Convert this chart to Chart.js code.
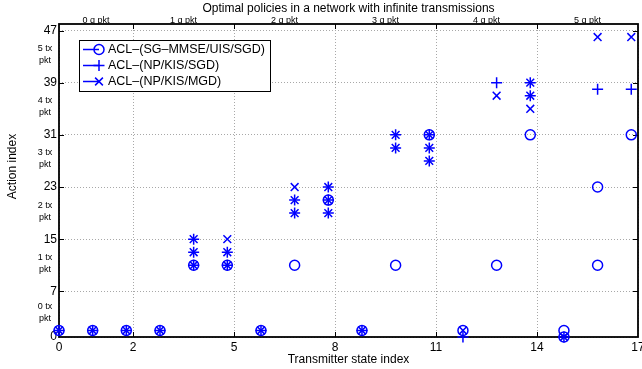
<!DOCTYPE html>
<html lang="en">
<head>
  <meta charset="UTF-8" />
  <title>Optimal policies in a network with infinite transmissions</title>
  <script src="https://cdn.jsdelivr.net/npm/chart.js"></script>
  <style>
    body {
      margin: 0;
      padding: 0;
      background: #fff;
      overflow: hidden;
    }
    .wrap {
      position: relative;
      width: 642px;
      height: 369px;
    }
  </style>
</head>
<body>
  <div class="wrap">
    <canvas id="policyChart" width="642" height="369"></canvas>
  </div>
  <script>
    /* =========================
         DATA
       ========================= */
    const chartTitle = 'Optimal policies in a network with infinite transmissions';
    const xTitle = 'Transmitter state index';
    const yTitle = 'Action index';

    // transmitter states
    const states = [0, 1, 2, 3, 4, 5, 6, 7, 8, 9, 10, 11, 12, 13, 14, 15, 16, 17];

    // actions used in each state (a state can have more than one action)
    const actionsSG = [[1], [1], [1], [1], [11], [11], [1], [11], [21], [1], [11], [31], [1], [11], [31], [0, 1], [11, 23], [31]];
    const actionsNPSGD = [[1], [1], [1], [1], [11, 13, 15], [11, 13], [1], [19, 21], [19, 21, 23], [1], [29, 31], [27, 29, 31], [0], [39], [37, 39], [0], [38], [38]];
    const actionsNPMGD = [[1], [1], [1], [1], [11, 13, 15], [11, 13, 15], [1], [19, 21, 23], [19, 21, 23], [1], [29, 31], [27, 29, 31], [1], [37], [35, 37, 39], [0], [46], [46]];

    const seriesNames = ['ACL–(SG–MMSE/UIS/SGD)', 'ACL–(NP/KIS/SGD)', 'ACL–(NP/KIS/MGD)'];
    const seriesStyles = ['circle', 'cross', 'crossRot'];

    // bottom axis ticks (also the queue group boundaries)
    const xTickPos = [0, 2.2, 5.2, 8.2, 11.2, 14.2, 17.2];
    const xTickLabels = ['0', '2', '5', '8', '11', '14', '17'];
    const queueLabels = ['0 q pkt', '1 q pkt', '2 q pkt', '3 q pkt', '4 q pkt', '5 q pkt'];

    // left axis ticks (also the tx group boundaries)
    const yTickPos = [0, 7, 15, 23, 31, 39, 47];
    const txLabels = ['0 tx', '1 tx', '2 tx', '3 tx', '4 tx', '5 tx'];

    /* =========================
         BUILD
       ========================= */
    const FONT = '"Liberation Sans", Arial, Helvetica, sans-serif';
    const BLUE = '#0000ff';
    Chart.defaults.font.family = FONT;
    Chart.defaults.color = '#000';

    const toPoints = actions => states.flatMap((s, i) => actions[i].map(a => ({ x: s, y: a })));
    const queueMid = queueLabels.map((l, i) => (xTickPos[i] + xTickPos[i + 1]) / 2);
    const txMid = txLabels.map((l, i) => (yTickPos[i] + yTickPos[i + 1]) / 2);

    const makeSet = (name, actions, style, radius) => ({
      label: name,
      data: toPoints(actions),
      showLine: false,
      pointStyle: style,
      pointRadius: radius,
      pointBorderWidth: 1.5,
      pointBorderColor: BLUE,
      pointBackgroundColor: 'rgba(0,0,0,0)',
      clip: false
    });

    function drawMarker(ctx, style, x, y, r) {
      ctx.beginPath();
      if (style === 'circle') {
        ctx.arc(x, y, r, 0, Math.PI * 2);
      } else if (style === 'cross') {
        ctx.moveTo(x - r, y); ctx.lineTo(x + r, y);
        ctx.moveTo(x, y - r); ctx.lineTo(x, y + r);
      } else {
        const d = r * Math.SQRT1_2;
        ctx.moveTo(x - d, y - d); ctx.lineTo(x + d, y + d);
        ctx.moveTo(x - d, y + d); ctx.lineTo(x + d, y - d);
      }
      ctx.stroke();
    }

    // box, inward ticks, tx labels, y title and legend
    const framePlugin = {
      id: 'frame',
      beforeDatasetsDraw(chart) {
        const { ctx, chartArea: a, scales } = chart;
        ctx.save();
        ctx.strokeStyle = '#000';
        ctx.lineWidth = 1;
        ctx.beginPath();
        xTickPos.slice(1, -1).forEach(v => {
          const px = Math.round(scales.x.getPixelForValue(v)) + 0.5;
          ctx.moveTo(px, a.bottom); ctx.lineTo(px, a.bottom - 5);
          ctx.moveTo(px, a.top); ctx.lineTo(px, a.top + 5);
        });
        yTickPos.slice(1).forEach(v => {
          const py = Math.round(scales.y.getPixelForValue(v)) + 0.5;
          ctx.moveTo(a.left, py); ctx.lineTo(a.left + 5, py);
          ctx.moveTo(a.right, py); ctx.lineTo(a.right - 5, py);
        });
        ctx.stroke();
        ctx.lineWidth = 1.8;
        ctx.strokeRect(a.left, a.top, a.right - a.left, a.bottom - a.top);
        ctx.restore();
      },
      afterDraw(chart) {
        const { ctx, chartArea: a, scales } = chart;
        ctx.save();
        ctx.fillStyle = '#000';

        // tx group labels
        ctx.font = '9px ' + FONT;
        ctx.textAlign = 'center';
        ctx.textBaseline = 'middle';
        txLabels.forEach((t, i) => {
          const py = scales.y.getPixelForValue(txMid[i]);
          ctx.fillText(t, a.left - 14, py - 8);
          ctx.fillText('pkt', a.left - 14, py + 4);
        });

        // y title
        ctx.font = '12px ' + FONT;
        ctx.translate(13, (a.top + a.bottom) / 2 - 14);
        ctx.rotate(-Math.PI / 2);
        ctx.fillText(yTitle, 0, 0);
        ctx.restore();

        // legend
        ctx.save();
        const lx = a.left + 20, ly = a.top + 16, lw = 191, lh = 51;
        ctx.fillStyle = '#fff';
        ctx.fillRect(lx, ly, lw, lh);
        ctx.strokeStyle = '#000';
        ctx.lineWidth = 1;
        ctx.strokeRect(lx + 0.5, ly + 0.5, lw, lh);
        ctx.font = '12.5px ' + FONT;
        ctx.textAlign = 'left';
        ctx.textBaseline = 'middle';
        chart.data.datasets.forEach((ds, i) => {
          const ry = ly + 9.5 + i * 16;
          ctx.strokeStyle = BLUE;
          ctx.lineWidth = 1.5;
          ctx.beginPath();
          ctx.moveTo(lx + 4, ry); ctx.lineTo(lx + 20, ry);
          ctx.stroke();
          drawMarker(ctx, ds.pointStyle, lx + 20, ry, ds.pointRadius);
          ctx.fillStyle = '#000';
          ctx.fillText(ds.label, lx + 29, ry);
        });
        ctx.restore();
      }
    };

    /* =========================
         CHART
       ========================= */
    const ctx = document.getElementById('policyChart').getContext('2d');
    new Chart(ctx, {
      type: 'scatter',
      data: {
        datasets: [
          makeSet(seriesNames[0], actionsSG, seriesStyles[0], 5),
          makeSet(seriesNames[1], actionsNPSGD, seriesStyles[1], 5.5),
          makeSet(seriesNames[2], actionsNPMGD, seriesStyles[2], 5.5)
        ]
      },
      options: {
        responsive: false,
        animation: false,
        devicePixelRatio: 1,
        events: [],
        layout: { autoPadding: false, padding: { left: 0, right: 4, top: 0, bottom: 0 } },
        plugins: {
          legend: { display: false },
          tooltip: { enabled: false }
        },
        scales: {
          x: {
            type: 'linear',
            position: 'bottom',
            min: 0,
            max: 17.2,
            afterBuildTicks: s => { s.ticks = xTickPos.map(v => ({ value: v })); },
            afterFit: s => { s.height = 32; s.paddingRight = 0; s.paddingLeft = 0; },
            ticks: {
              callback: (v, i) => xTickLabels[i],
              font: { size: 12 },
              color: '#000',
              padding: 3,
              maxRotation: 0,
              autoSkip: false
            },
            grid: { color: '#a8a8a8', lineWidth: 1, drawTicks: false },
            border: { display: false, dash: [1, 2] },
            title: { display: true, text: xTitle, font: { size: 12 }, color: '#000', padding: { top: 0, bottom: 2 } }
          },
          x2: {
            type: 'linear',
            position: 'top',
            min: 0,
            max: 17.2,
            afterBuildTicks: s => { s.ticks = queueMid.map(v => ({ value: v })); },
            afterFit: s => { s.height = 24; s.paddingRight = 0; s.paddingLeft = 0; },
            ticks: {
              callback: (v, i) => queueLabels[i],
              font: { size: 9 },
              color: '#000',
              padding: -2,
              maxRotation: 0,
              autoSkip: false
            },
            grid: { drawOnChartArea: false, drawTicks: false },
            border: { display: false },
            title: { display: true, text: chartTitle, font: { size: 12 }, color: '#000', padding: { top: 1, bottom: 0 } }
          },
          y: {
            type: 'linear',
            min: 0,
            max: 48,
            afterBuildTicks: s => { s.ticks = yTickPos.map(v => ({ value: v })); },
            afterFit: s => { s.width = 59; },
            ticks: { font: { size: 12 }, color: '#000', padding: 2 },
            grid: { color: '#a8a8a8', lineWidth: 1, drawTicks: false },
            border: { display: false, dash: [1, 2] }
          }
        }
      },
      plugins: [framePlugin]
    });
  </script>
</body>
</html>
